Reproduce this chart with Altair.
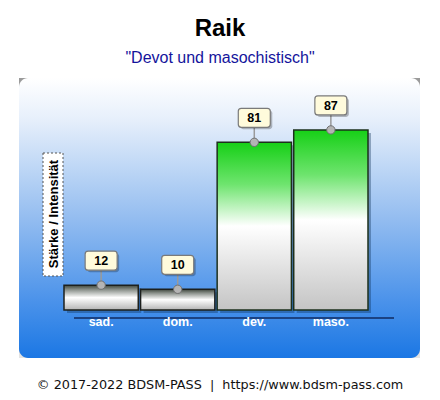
import altair as alt
import pandas as pd

categories = ["sad.", "dom.", "dev.", "maso."]
values = [12, 10, 81, 87]

title_text = "Raik"
subtitle_text = "\"Devot und masochistisch\""
axis_title = "Stärke / Intensität"
footer_text = "© 2017-2022 BDSM-PASS \u00a0|\u00a0 https://www.bdsm-pass.com"

df = pd.DataFrame({"cat": categories, "value": values})

W, H = 424, 384
X = alt.X("cat:N", sort=categories,
          scale=alt.Scale(range=[56, 360], paddingInner=0.03, paddingOuter=0),
          axis=None)
Y = alt.Y("value:Q", scale=alt.Scale(domain=[0, 100], range=[302, 95]), axis=None)
Y0 = alt.Y2(datum=0)

one = alt.Data(values=[{"a": 1}])


def grad(stops):
    return alt.LinearGradient(
        gradient="linear", x1=0, x2=0, y1=0, y2=1,
        stops=[alt.GradientStop(offset=o, color=c) for o, c in stops])


# decorative panel
panel_shadow = alt.Chart(one).mark_rect(
    color=grad([(0, "#9a9a9a"), (1, "#e4e4e4")])
).encode(x=alt.value(11), x2=alt.value(412), y=alt.value(70), y2=alt.value(350))

panel = alt.Chart(one).mark_rect(
    cornerRadius=9,
    color=grad([(0, "#ffffff"), (0.15, "#e6effb"), (0.5, "#94bdf0"),
                (0.8, "#4a92ea"), (1, "#1b77e4")])
).encode(x=alt.value(11), x2=alt.value(412), y=alt.value(70), y2=alt.value(350))

ybox = alt.Chart(one).mark_rect(
    fill="white", stroke="#555555", strokeWidth=1, strokeDash=[2, 2]
).encode(x=alt.value(35), x2=alt.value(55), y=alt.value(145), y2=alt.value(268))

ytext = alt.Chart(one).mark_text(
    text=axis_title, angle=270, font="Liberation Sans", fontSize=13,
    fontWeight="bold", color="#000000", align="center", baseline="middle"
).encode(x=alt.value(45.5), y=alt.value(206))

base = alt.Chart(df)

bar_shadow = base.mark_bar(color="#0a2a50", opacity=0.35, xOffset=3, yOffset=3,
                           y2Offset=3).encode(x=X, y=Y, y2=Y0)

green = base.transform_filter(alt.datum.value >= 50).mark_bar(
    stroke="#1d301d", strokeWidth=1.5,
    color=grad([(0, "#16d016"), (0.25, "#6ee46e"), (0.5, "#ffffff"),
                (1, "#c4c4c4")])
).encode(x=X, y=Y, y2=Y0)

gray = base.transform_filter(alt.datum.value < 50).mark_bar(
    stroke="#1d201d", strokeWidth=1.5,
    color=grad([(0, "#3e463c"), (0.18, "#8a908a"), (0.5, "#ffffff"),
                (1, "#b4b4b4")])
).encode(x=X, y=Y, y2=Y0)

axis_line = alt.Chart(one).mark_rule(color="#102a60", strokeWidth=1.3).encode(
    x=alt.value(66), x2=alt.value(386), y=alt.value(310), y2=alt.value(310))

cat_labels = base.mark_text(
    font="Liberation Sans", fontSize=12.5, fontWeight="bold", color="white",
    baseline="middle", align="center"
).encode(x=X, y=alt.value(314), text="cat:N")

connector = base.mark_rule(color="#9a9a9a", strokeWidth=1.5, y2Offset=-16).encode(
    x=X, y=Y, y2=alt.Y2("value:Q"))

dot = base.mark_point(filled=True, shape="circle", size=70, color="#b4b4b4",
                      stroke="#707070", strokeWidth=1, opacity=1).encode(x=X, y=Y)

box_shadow = base.mark_bar(width=32, cornerRadius=3, color="#000000", opacity=0.25,
                           xOffset=2, yOffset=-32, y2Offset=-13).encode(
    x=X, y=Y, y2=alt.Y2("value:Q"))

box = base.mark_bar(width=32, cornerRadius=3, color="#fffbdc", stroke="#7a7a7a",
                    strokeWidth=1.2, yOffset=-34, y2Offset=-15).encode(
    x=X, y=Y, y2=alt.Y2("value:Q"))

box_text = base.mark_text(font="Liberation Sans", fontSize=12.5, fontWeight="bold",
                          color="#000000", baseline="middle", dy=-24).encode(
    x=X, y=Y, text="value:Q")

title = alt.Chart(one).mark_text(
    text=title_text, font="Liberation Sans", fontSize=24, fontWeight="bold",
    color="#000000", align="center", baseline="alphabetic"
).encode(x=alt.value(212), y=alt.value(28))

subtitle = alt.Chart(one).mark_text(
    text=subtitle_text, font="Liberation Sans", fontSize=16,
    color="#14149c", align="center", baseline="alphabetic"
).encode(x=alt.value(212), y=alt.value(55))

footer = alt.Chart(one).mark_text(
    text=footer_text, font="DejaVu Sans", fontSize=12.8,
    color="#111111", align="center", baseline="middle"
).encode(x=alt.value(212), y=alt.value(377))

chart = alt.layer(
    panel_shadow, panel, ybox, ytext, bar_shadow, gray, green, axis_line,
    cat_labels, connector, dot, box_shadow, box, box_text, title, subtitle, footer
).properties(
    width=W, height=H,
    autosize=alt.AutoSizeParams(type="none"),
    padding=0,
    background="white",
).configure_view(stroke=None)

chart.save("out.html", embed_options={"renderer": "svg", "actions": False})
